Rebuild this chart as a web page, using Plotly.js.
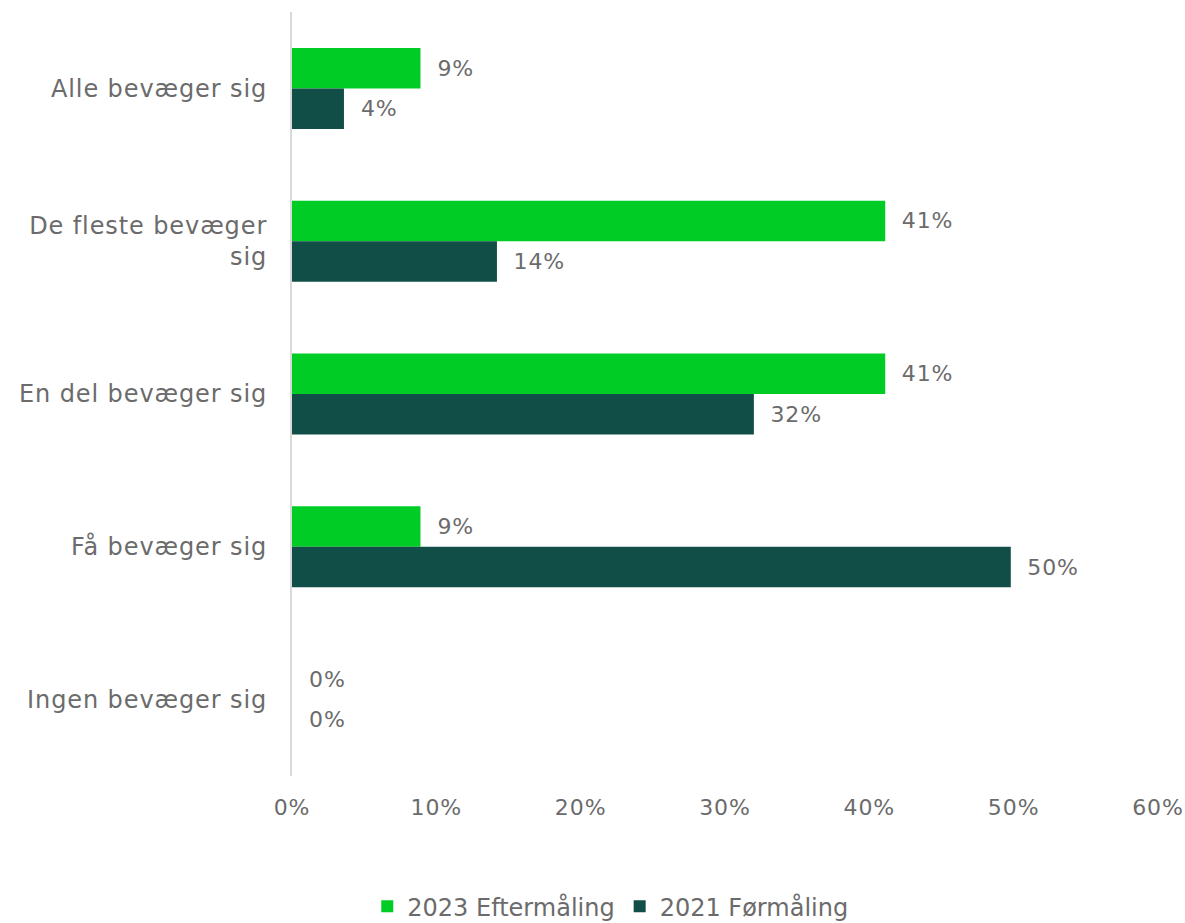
<!DOCTYPE html>
<html>
<head>
<meta charset="utf-8">
<script src="https://cdn.plot.ly/plotly-3.0.1.min.js"></script>
<style>html,body{margin:0;padding:0;background:#fff;}#chart{width:1185px;height:923px;}
#chart .cartesianlayer text, #chart .barlayer text{letter-spacing:0.9px;}</style>
</head>
<body>
<div id="chart"></div>
<script>
const categories = ["Alle bevæger sig", "De fleste bevæger<br>sig", "En del bevæger sig", "Få bevæger sig", "Ingen bevæger sig"];
const series2023 = [8.9, 41.1, 41.1, 8.9, 0];
const series2021 = [3.6, 14.2, 32.0, 49.8, 0];
const seriesNames = ["2023 Eftermåling", "2021 Førmåling"];
const tickVals = [0, 10, 20, 30, 40, 50, 60];
const tickText = ["0%", "10%", "20%", "30%", "40%", "50%", "60%"];

const FONT = "'DejaVu Sans', sans-serif";
const TXT = "#6b6b6b";

function trace(vals, name, color) {
  return {
    type: "bar", orientation: "h", name: name,
    y: categories, x: vals,
    marker: {color: color},
    texttemplate: "\u00a0\u00a0%{x:.0f}%",
    textposition: "outside",
    cliponaxis: false,
    textfont: {family: FONT, size: 22, color: TXT},
    hoverinfo: "x+name"
  };
}

const data = [
  trace(series2023, seriesNames[0], "#00cc26"),
  trace(series2021, seriesNames[1], "#114e47")
];

const layout = {
  width: 1185, height: 923,
  margin: {l: 292, r: 27, t: 12, b: 147},
  paper_bgcolor: "#fff", plot_bgcolor: "#fff",
  barmode: "group", bargap: 0.47, bargroupgap: 0,
  font: {family: FONT, color: TXT, size: 22},
  xaxis: {
    range: [0, 60], tickvals: tickVals, ticktext: tickText,
    showgrid: false, zeroline: false, showline: false, ticks: "",
    ticklabelstandoff: 16,
    tickfont: {family: FONT, size: 22, color: TXT},
    automargin: false
  },
  yaxis: {
    autorange: "reversed", showgrid: false, zeroline: false,
    showline: true, linecolor: "#d9d9d9", linewidth: 2, ticks: "",
    ticklabelstandoff: 18,
    tickfont: {family: FONT, size: 24, color: TXT},
    automargin: false
  },
  showlegend: true,
  legend: {
    orientation: "h", xref: "container", yref: "container",
    x: 0.515, xanchor: "center", y: 0.042, yanchor: "top",
    font: {family: FONT, size: 24, color: TXT},
    traceorder: "normal", itemwidth: 30
  }
};

Plotly.newPlot("chart", data, layout, {displayModeBar: false, staticPlot: true});
</script>
</body>
</html>
